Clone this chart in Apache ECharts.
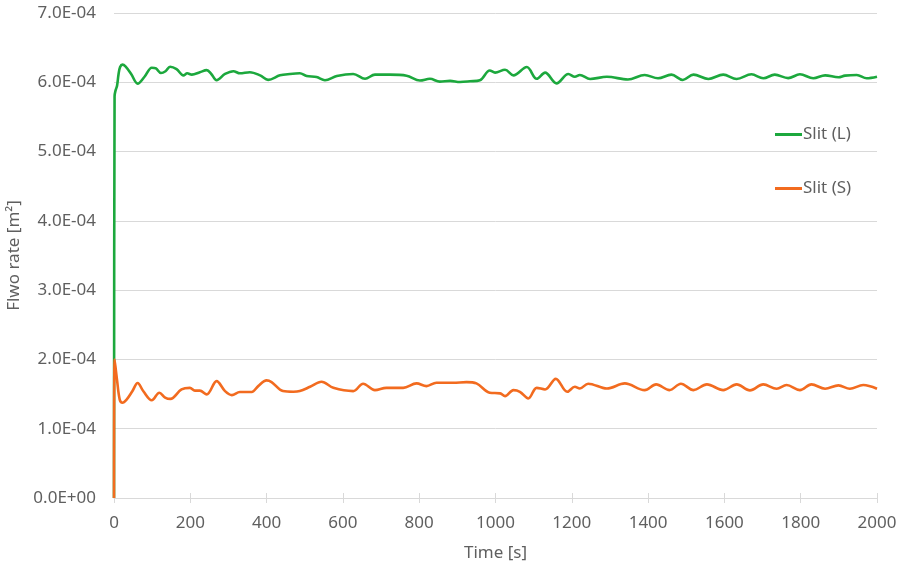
<!DOCTYPE html>
<html>
<head>
<meta charset="utf-8">
<script src="https://cdn.jsdelivr.net/npm/echarts@6/dist/echarts.min.js"></script>
<style>
  html, body { margin: 0; padding: 0; background: #fff; }
  #chart { width: 898px; height: 567px; }
</style>
</head>
<body>
<div id="chart"></div>
<script>
// Slit (L): time [s] and flow rate
const timeL = [0, 1.5, 4, 8, 12, 16, 22, 30, 45, 62, 80, 99, 110, 123, 135, 147, 164, 182, 192, 204,
  225, 243, 255, 269, 291, 313, 330, 356, 383, 404, 435, 461, 487, 505, 531, 553, 584, 627, 658, 684,
  723, 767, 802, 828, 854, 881, 907, 933, 959, 985, 999, 1025, 1047, 1082, 1108, 1130, 1160, 1191, 1208, 1221,
  1248, 1292, 1347, 1391, 1426, 1461, 1491, 1519, 1558, 1597, 1632, 1671, 1702, 1732, 1767, 1798, 1833, 1864, 1899, 1916,
  1947, 1973, 2000];
const flowL = [0, 5.80e-4, 5.88e-4, 5.95e-4, 6.12e-4, 6.22e-4, 6.255e-4, 6.23e-4, 6.12e-4, 5.98e-4, 6.08e-4, 6.21e-4, 6.20e-4, 6.135e-4, 6.16e-4, 6.225e-4, 6.19e-4, 6.10e-4, 6.13e-4, 6.11e-4,
  6.145e-4, 6.175e-4, 6.12e-4, 6.03e-4, 6.12e-4, 6.16e-4, 6.13e-4, 6.145e-4, 6.10e-4, 6.035e-4, 6.10e-4, 6.12e-4, 6.13e-4, 6.09e-4, 6.075e-4, 6.03e-4, 6.09e-4, 6.12e-4, 6.05e-4, 6.11e-4,
  6.11e-4, 6.095e-4, 6.025e-4, 6.05e-4, 6.01e-4, 6.02e-4, 6.005e-4, 6.015e-4, 6.03e-4, 6.17e-4, 6.14e-4, 6.18e-4, 6.10e-4, 6.22e-4, 6.05e-4, 6.14e-4, 5.985e-4, 6.12e-4, 6.08e-4, 6.106e-4,
  6.048e-4, 6.08e-4, 6.04e-4, 6.106e-4, 6.058e-4, 6.11e-4, 6.034e-4, 6.11e-4, 6.048e-4, 6.11e-4, 6.048e-4, 6.115e-4, 6.058e-4, 6.11e-4, 6.06e-4, 6.115e-4, 6.058e-4, 6.10e-4, 6.072e-4, 6.096e-4,
  6.106e-4, 6.058e-4, 6.08e-4];

// Slit (S): time [s] and flow rate
const timeS = [0, 1.5, 8, 15, 22, 33, 48, 62, 77, 99, 119, 134, 148, 177, 199, 212, 225, 243, 269, 291,
  309, 330, 361, 378, 400, 413, 443, 470, 487, 514, 544, 575, 627, 653, 684, 714, 758, 793, 819, 845,
  889, 924, 950, 985, 1012, 1025, 1047, 1064, 1086, 1108, 1130, 1158, 1188, 1208, 1221, 1243, 1292, 1339, 1391, 1421,
  1456, 1486, 1519, 1554, 1597, 1632, 1667, 1702, 1737, 1763, 1798, 1828, 1864, 1899, 1929, 1964, 2000];
const flowS = [0, 2.00e-4, 1.70e-4, 1.42e-4, 1.375e-4, 1.42e-4, 1.54e-4, 1.66e-4, 1.54e-4, 1.41e-4, 1.52e-4, 1.45e-4, 1.43e-4, 1.567e-4, 1.59e-4, 1.55e-4, 1.55e-4, 1.495e-4, 1.687e-4, 1.543e-4,
  1.485e-4, 1.53e-4, 1.53e-4, 1.615e-4, 1.697e-4, 1.673e-4, 1.543e-4, 1.533e-4, 1.543e-4, 1.605e-4, 1.678e-4, 1.59e-4, 1.543e-4, 1.65e-4, 1.557e-4, 1.59e-4, 1.59e-4, 1.654e-4, 1.615e-4, 1.663e-4,
  1.663e-4, 1.673e-4, 1.654e-4, 1.52e-4, 1.51e-4, 1.47e-4, 1.557e-4, 1.533e-4, 1.437e-4, 1.59e-4, 1.567e-4, 1.72e-4, 1.533e-4, 1.605e-4, 1.58e-4, 1.65e-4, 1.58e-4, 1.654e-4, 1.557e-4, 1.64e-4,
  1.557e-4, 1.65e-4, 1.557e-4, 1.64e-4, 1.557e-4, 1.64e-4, 1.553e-4, 1.64e-4, 1.577e-4, 1.63e-4, 1.557e-4, 1.64e-4, 1.577e-4, 1.625e-4, 1.577e-4, 1.63e-4, 1.577e-4];

const seriesNames = ['Slit (L)', 'Slit (S)'];
const xTitle = 'Time [s]';
const yTitle = 'Flwo rate [m\u00B2]';

const FONT = '"Noto Sans", "Open Sans", sans-serif';
const TEXT = '#5f5f5f';
const GRID = '#d9d9d9';

const pairs = (xs, ys) => xs.map((x, i) => [x, ys[i]]);

// Excel-like scientific notation: 6.0E-04, 0.0E+00
function sci(v) {
  if (Math.abs(v) < 1e-12) return '0.0E+00';
  const parts = v.toExponential(1).split('e');
  const n = parseInt(parts[1], 10);
  return parts[0] + 'E' + (n < 0 ? '-' : '+') + String(Math.abs(n)).padStart(2, '0');
}

const chart = echarts.init(document.getElementById('chart'), null, { renderer: 'canvas' });
chart.setOption({
  animation: false,
  backgroundColor: '#ffffff',
  grid: { left: 114, right: 21, top: 13, bottom: 69, containLabel: false, outerBoundsMode: 'none' },
  legend: {
    orient: 'vertical',
    left: 770,
    top: 121,
    itemGap: 37,
    itemWidth: 27,
    itemHeight: 3,
    icon: 'rect',
    textStyle: { color: TEXT, fontFamily: FONT, fontSize: 17, padding: [0, 0, 0, -4] },
    data: seriesNames
  },
  xAxis: [{
    type: 'value',
    min: 0, max: 2000, interval: 200,
    name: xTitle,
    nameLocation: 'middle',
    nameGap: 47,
    nameTextStyle: { color: TEXT, fontFamily: FONT, fontSize: 17 },
    axisLine: { show: true, lineStyle: { color: GRID, width: 1 } },
    axisTick: { show: true, length: 5, lineStyle: { color: GRID } },
    axisLabel: { color: TEXT, fontFamily: FONT, fontSize: 17, margin: 17, formatter: v => String(v) },
    splitLine: { show: false }
  }, {
    // inner half of the crossing tick marks
    type: 'value',
    position: 'bottom',
    min: 0, max: 2000, interval: 200,
    axisLine: { show: false },
    axisTick: { show: true, inside: true, length: 5, lineStyle: { color: GRID } },
    axisLabel: { show: false },
    splitLine: { show: false }
  }],
  yAxis: {
    type: 'value',
    min: 0, max: 7e-4, interval: 1e-4,
    name: yTitle,
    nameLocation: 'middle',
    nameGap: 84,
    nameRotate: 90,
    nameTextStyle: { color: TEXT, fontFamily: FONT, fontSize: 17 },
    axisLine: { show: false },
    axisTick: { show: false },
    axisLabel: { color: TEXT, fontFamily: FONT, fontSize: 17, margin: 18, formatter: sci },
    splitLine: { show: true, lineStyle: { color: GRID, width: 1 } }
  },
  series: [{
    name: seriesNames[0],
    type: 'line',
    xAxisIndex: 0,
    data: pairs(timeL, flowL),
    showSymbol: false,
    smooth: 0.35,
    lineStyle: { color: '#1ca83d', width: 2.6 },
    itemStyle: { color: '#1ca83d' }
  }, {
    name: seriesNames[1],
    type: 'line',
    xAxisIndex: 0,
    data: pairs(timeS, flowS),
    showSymbol: false,
    smooth: 0.35,
    lineStyle: { color: '#f26b1f', width: 2.6 },
    itemStyle: { color: '#f26b1f' }
  }]
});
</script>
</body>
</html>
